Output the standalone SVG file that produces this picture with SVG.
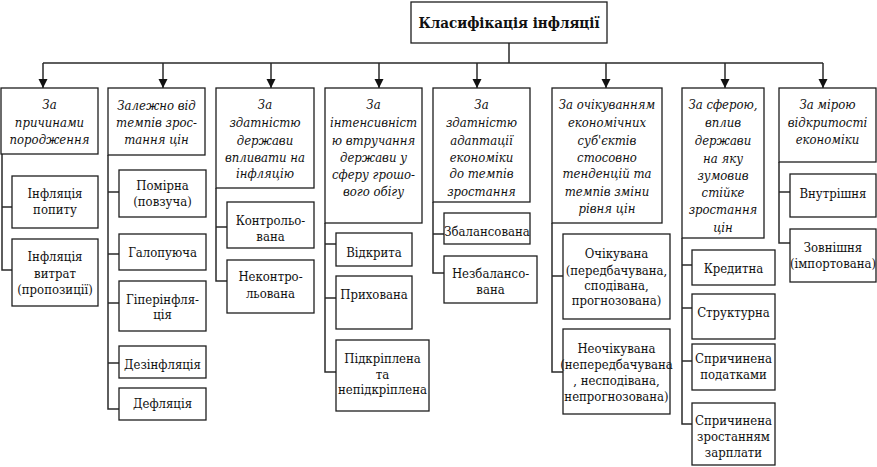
<svg xmlns="http://www.w3.org/2000/svg" width="877" height="467" viewBox="0 0 877 467" font-family="'DejaVu Serif Condensed', 'DejaVu Serif', serif">
<style>
.box{fill:#fff;stroke:#1e1e1e;stroke-width:1.3}
.ln{fill:none;stroke:#2a2a2a;stroke-width:1.5}
text{font-size:13px;fill:#111;text-anchor:middle}
.h{font-style:italic}
.title{font-weight:bold;font-size:15px}
</style>
<defs>
<marker id="arr" markerUnits="userSpaceOnUse" markerWidth="9" markerHeight="10" refX="9" refY="4.5" orient="auto">
<path d="M0,0 L9,4.5 L0,9 z" fill="#111"/>
</marker>
</defs>

<g id="connectors">
<path class="ln" d="M509,43 V63 M43,63 H823"/>
<path class="ln" marker-end="url(#arr)" d="M43,63 V88"/>
<path class="ln" marker-end="url(#arr)" d="M163,63 V88"/>
<path class="ln" marker-end="url(#arr)" d="M271,63 V88"/>
<path class="ln" marker-end="url(#arr)" d="M379,63 V88"/>
<path class="ln" marker-end="url(#arr)" d="M477,63 V88"/>
<path class="ln" marker-end="url(#arr)" d="M606,63 V88"/>
<path class="ln" marker-end="url(#arr)" d="M725,63 V88"/>
<path class="ln" marker-end="url(#arr)" d="M823,63 V88"/>
<path class="ln" d="M2,154 V270 H12 M2,207 H12"/>
<path class="ln" d="M108,155 V409 H119 M108,192 H119 M108,254 H119 M108,303 H119 M108,363 H119"/>
<path class="ln" d="M216,188 V281 H227 M216,227 H227"/>
<path class="ln" d="M325,223 V372 H336 M325,244 H336 M325,298 H336"/>
<path class="ln" d="M433,202 V273 H444 M433,234 H444"/>
<path class="ln" d="M552,223 V372 H563 M552,276 H563"/>
<path class="ln" d="M682,238 V424 H692 M682,265 H692 M682,308 H692 M682,361 H692"/>
<path class="ln" d="M779,162 V243 H790 M779,192 H790"/>
</g>

<g id="title">
<rect class="box" x="411" y="2" width="196" height="41"/>
<text class="title" x="509" y="28">Класифікація інфляції</text>
</g>

<g id="c1">
<rect class="box" x="1" y="88" width="97" height="66"/>
<text class="h" x="49.5" y="109">За</text>
<text class="h" x="49.5" y="127">причинами</text>
<text class="h" x="49.5" y="144">породження</text>
</g>
<g id="c1a">
<rect class="box" x="12" y="176" width="86" height="52"/>
<text x="55" y="198">Інфляція</text>
<text x="55" y="214">попиту</text>
</g>
<g id="c1b">
<rect class="box" x="12" y="239" width="86" height="67"/>
<text x="55" y="261">Інфляція</text>
<text x="55" y="278">витрат</text>
<text x="55" y="294">(пропозиції)</text>
</g>

<g id="c2">
<rect class="box" x="108" y="88" width="97" height="67"/>
<text class="h" x="156.5" y="110">Залежно від</text>
<text class="h" x="156.5" y="127">темпів зрос-</text>
<text class="h" x="156.5" y="144">тання цін</text>
</g>
<g id="c2a">
<rect class="box" x="119" y="170" width="87" height="47"/>
<text x="162.5" y="190">Помірна</text>
<text x="162.5" y="206">(повзуча)</text>
</g>
<g id="c2b">
<rect class="box" x="119" y="234" width="87" height="36"/>
<text x="162.5" y="257">Галопуюча</text>
</g>
<g id="c2c">
<rect class="box" x="119" y="281" width="87" height="50"/>
<text x="162.5" y="304">Гіперінфля-</text>
<text x="162.5" y="319">ція</text>
</g>
<g id="c2d">
<rect class="box" x="119" y="346" width="87" height="32"/>
<text x="162.5" y="369">Дезінфляція</text>
</g>
<g id="c2e">
<rect class="box" x="119" y="388" width="87" height="32"/>
<text x="162.5" y="408">Дефляція</text>
</g>

<g id="c3">
<rect class="box" x="216" y="88" width="98" height="100"/>
<text class="h" x="265" y="109">За</text>
<text class="h" x="265" y="127">здатністю</text>
<text class="h" x="265" y="145">держави</text>
<text class="h" x="265" y="162">впливати на</text>
<text class="h" x="265" y="178">інфляцію</text>
</g>
<g id="c3a">
<rect class="box" x="227" y="202" width="87" height="46"/>
<text x="270.5" y="225">Контрольо-</text>
<text x="270.5" y="241">вана</text>
</g>
<g id="c3b">
<rect class="box" x="227" y="260" width="87" height="53"/>
<text x="270.5" y="281">Неконтро-</text>
<text x="270.5" y="298">льована</text>
</g>

<g id="c4">
<rect class="box" x="325" y="88" width="97" height="135"/>
<text class="h" x="373.5" y="109">За</text>
<text class="h" x="373.5" y="127">інтенсивніст</text>
<text class="h" x="373.5" y="145">ю втручання</text>
<text class="h" x="373.5" y="162">держави у</text>
<text class="h" x="373.5" y="179">сферу грошо-</text>
<text class="h" x="373.5" y="196">вого обігу</text>
</g>
<g id="c4a">
<rect class="box" x="336" y="233" width="76" height="33"/>
<text x="374" y="257">Відкрита</text>
</g>
<g id="c4b">
<rect class="box" x="336" y="276" width="76" height="53"/>
<text x="374" y="299">Прихована</text>
</g>
<g id="c4c">
<rect class="box" x="336" y="340" width="93" height="71"/>
<text x="382.5" y="363">Підкріплена</text>
<text x="382.5" y="379">та</text>
<text x="382.5" y="394">непідкріплена</text>
</g>

<g id="c5">
<rect class="box" x="433" y="88" width="97" height="114"/>
<text class="h" x="481.5" y="109">За</text>
<text class="h" x="481.5" y="127">здатністю</text>
<text class="h" x="481.5" y="145">адаптації</text>
<text class="h" x="481.5" y="162">економіки</text>
<text class="h" x="481.5" y="178">до темпів</text>
<text class="h" x="481.5" y="196">зростання</text>
</g>
<g id="c5a">
<rect class="box" x="444" y="213" width="86" height="31"/>
<text x="487" y="236">Збалансована</text>
</g>
<g id="c5b">
<rect class="box" x="444" y="256" width="93" height="47"/>
<text x="490.5" y="278">Незбалансо-</text>
<text x="490.5" y="294">вана</text>
</g>

<g id="c6">
<rect class="box" x="552" y="88" width="110" height="135"/>
<text class="h" x="607" y="109">За очікуванням</text>
<text class="h" x="607" y="127">економічних</text>
<text class="h" x="607" y="145">суб'єктів</text>
<text class="h" x="607" y="162">стосовно</text>
<text class="h" x="607" y="178">тенденцій та</text>
<text class="h" x="607" y="196">темпів зміни</text>
<text class="h" x="607" y="213">рівня цін</text>
</g>
<g id="c6a">
<rect class="box" x="563" y="234" width="107" height="85"/>
<text x="616.5" y="258">Очікувана</text>
<text x="616.5" y="275">(передбачувана,</text>
<text x="616.5" y="290">сподівана,</text>
<text x="616.5" y="305">прогнозована)</text>
</g>
<g id="c6b">
<rect class="box" x="563" y="329" width="107" height="85"/>
<text x="616.5" y="353">Неочікувана</text>
<text x="616.5" y="369">(непередбачувана</text>
<text x="616.5" y="385">, несподівана,</text>
<text x="616.5" y="401">непрогнозована)</text>
</g>

<g id="c7">
<rect class="box" x="682" y="88" width="82" height="150"/>
<text class="h" x="723" y="109">За сферою,</text>
<text class="h" x="723" y="127">вплив</text>
<text class="h" x="723" y="145">держави</text>
<text class="h" x="723" y="163">на яку</text>
<text class="h" x="723" y="180">зумовив</text>
<text class="h" x="723" y="197">стійке</text>
<text class="h" x="723" y="214">зростання</text>
<text class="h" x="723" y="232">цін</text>
</g>
<g id="c7a">
<rect class="box" x="692" y="250" width="83" height="35"/>
<text x="733.5" y="273">Кредитна</text>
</g>
<g id="c7b">
<rect class="box" x="692" y="294" width="83" height="45"/>
<text x="733.5" y="317">Структурна</text>
</g>
<g id="c7c">
<rect class="box" x="692" y="344" width="83" height="46"/>
<text x="733.5" y="363">Спричинена</text>
<text x="733.5" y="379">податками</text>
</g>
<g id="c7d">
<rect class="box" x="692" y="403" width="83" height="62"/>
<text x="733.5" y="425">Спричинена</text>
<text x="733.5" y="441">зростанням</text>
<text x="733.5" y="457">зарплати</text>
</g>

<g id="c8">
<rect class="box" x="779" y="88" width="97" height="74"/>
<text class="h" x="827.5" y="109">За мірою</text>
<text class="h" x="827.5" y="127">відкритості</text>
<text class="h" x="827.5" y="144">економіки</text>
</g>
<g id="c8a">
<rect class="box" x="790" y="174" width="86" height="43"/>
<text x="833" y="198">Внутрішня</text>
</g>
<g id="c8b">
<rect class="box" x="790" y="229" width="86" height="53"/>
<text x="833" y="252">Зовнішня</text>
<text x="833" y="268">(імпортована)</text>
</g>
</svg>
